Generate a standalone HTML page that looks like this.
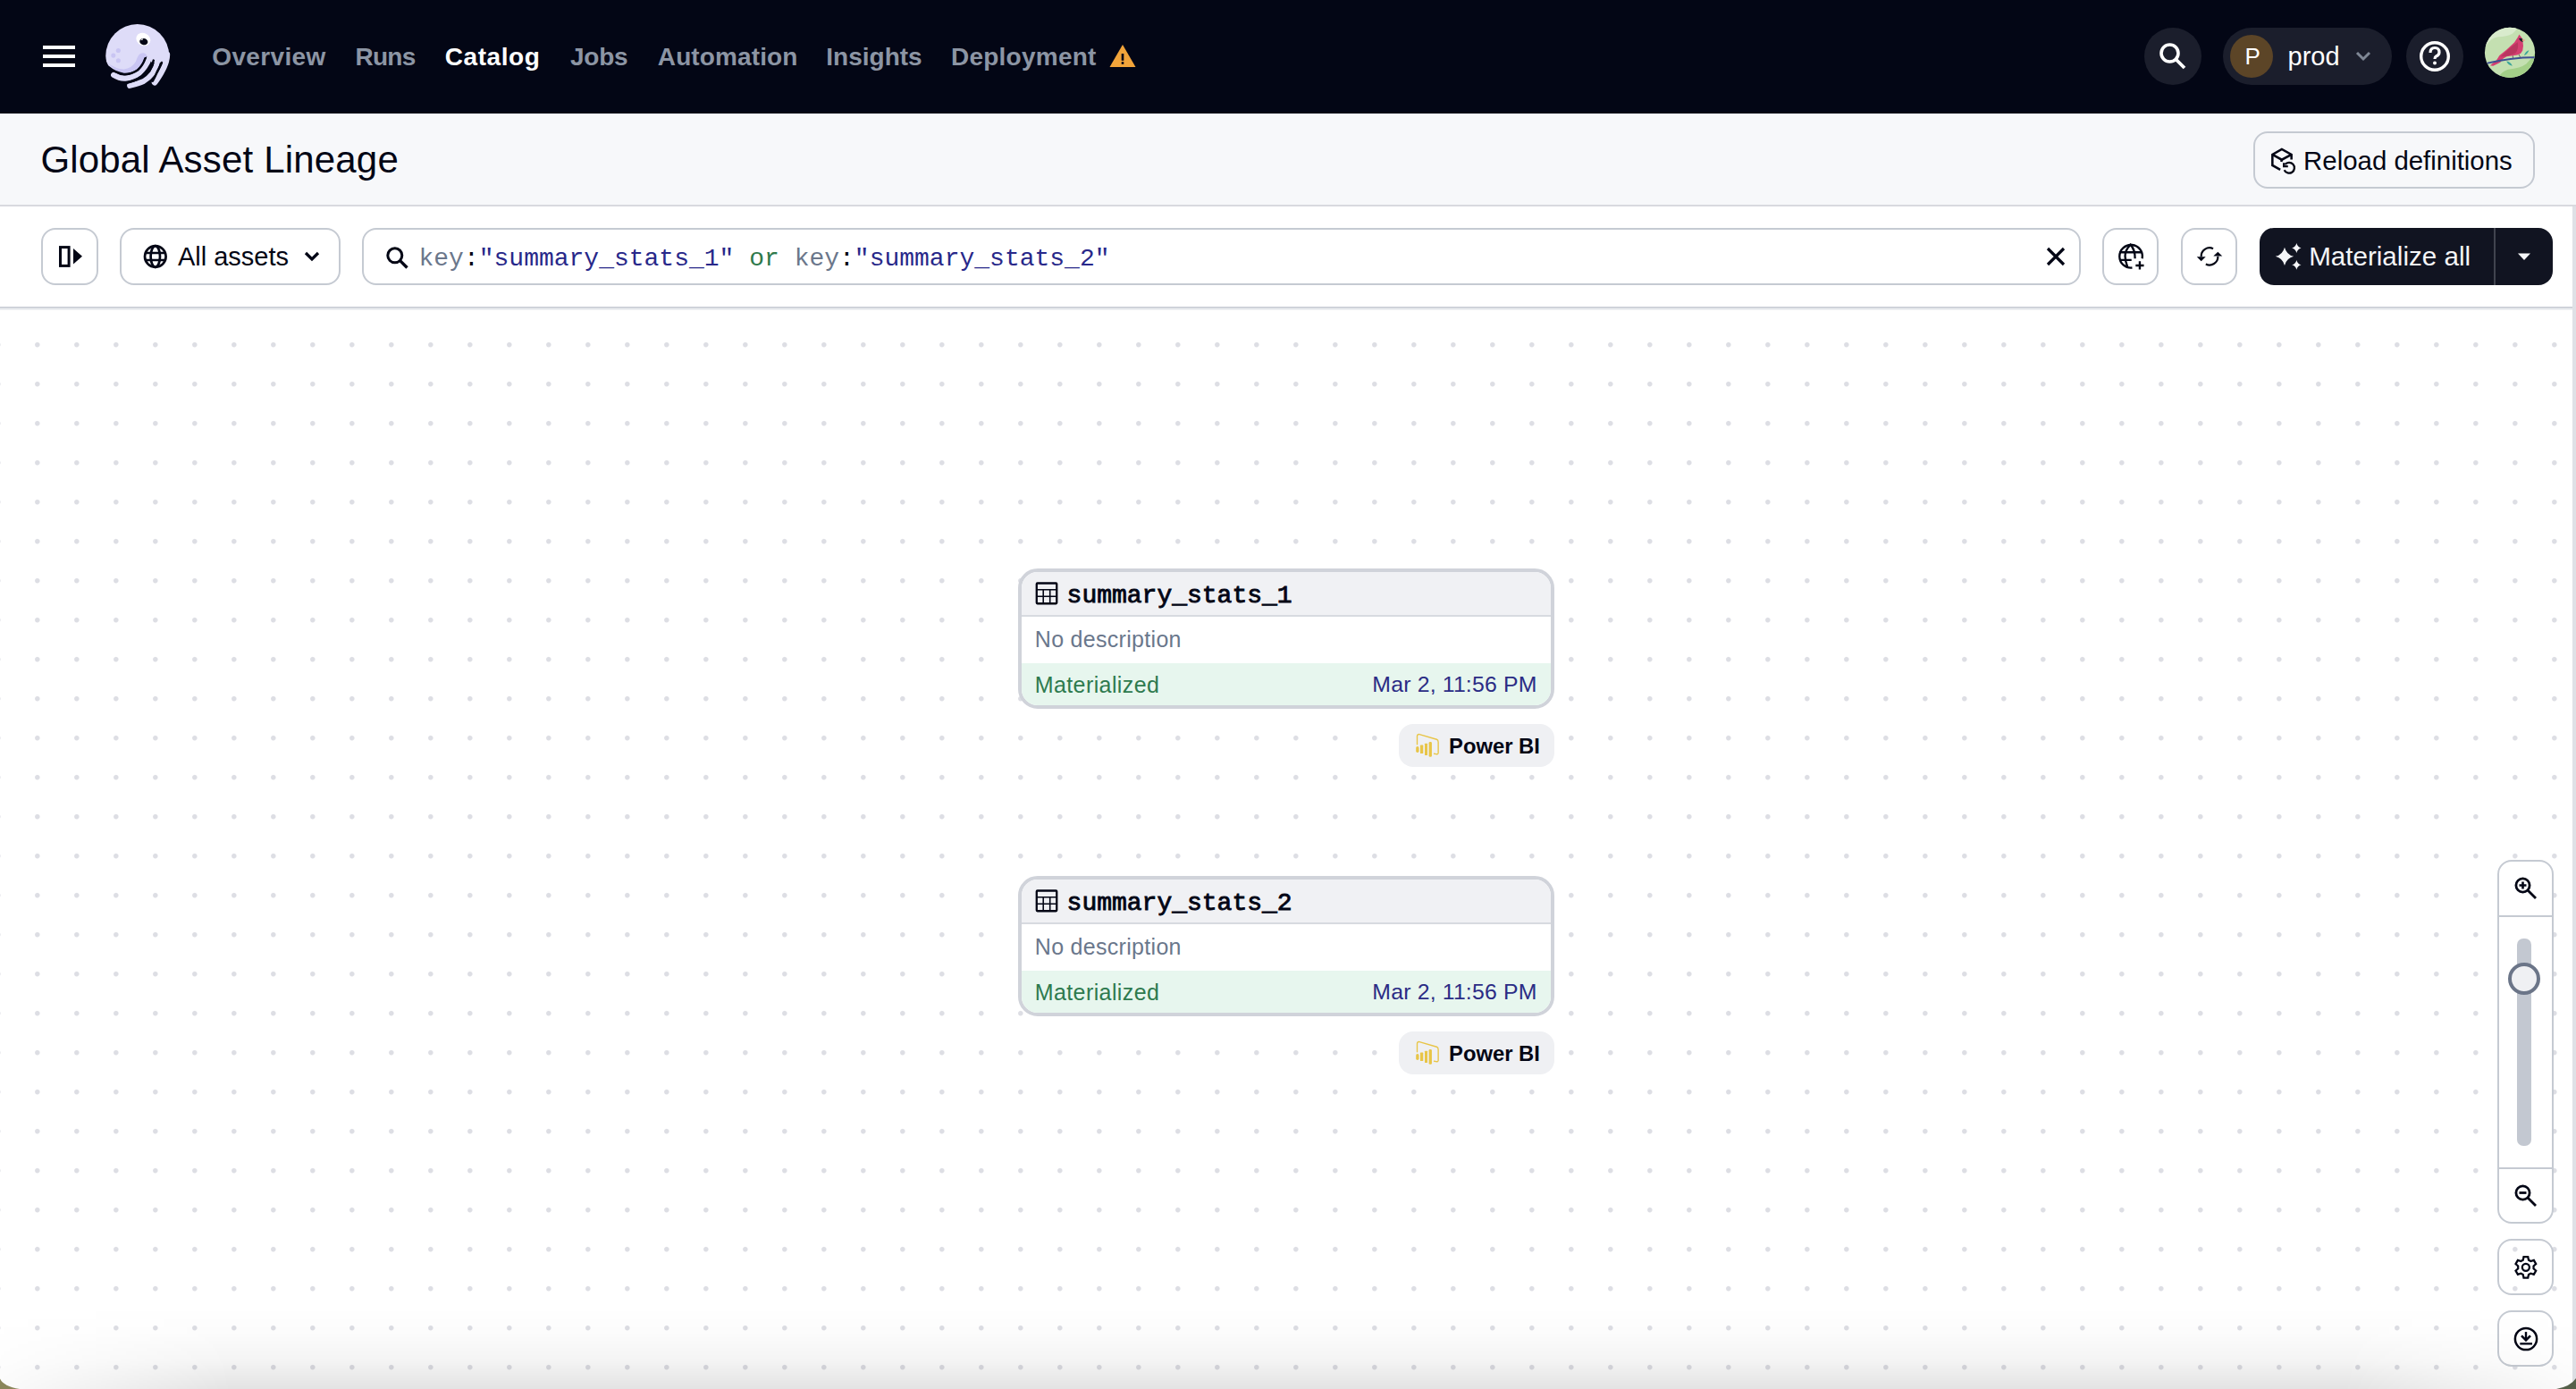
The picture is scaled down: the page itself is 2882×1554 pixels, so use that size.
<!DOCTYPE html>
<html><head><meta charset="utf-8"><title>Global Asset Lineage</title>
<style>
html,body{margin:0;padding:0;}
body{width:2882px;height:1554px;overflow:hidden;position:relative;background:#fff;font-family:"Liberation Sans", sans-serif;}
.t{position:absolute;white-space:pre;}
@media (max-width:2000px){html{zoom:0.5}}
</style></head><body>
<div style="position:absolute;left:0;top:0;width:2882px;height:127px;background:#030615"></div>
<div style="position:absolute;left:48px;top:51px;width:36px;height:4px;background:#fff"></div>
<div style="position:absolute;left:48px;top:61px;width:36px;height:4px;background:#fff"></div>
<div style="position:absolute;left:48px;top:71px;width:36px;height:4px;background:#fff"></div>
<svg style="position:absolute;left:112px;top:22px" width="84" height="82" viewBox="0 0 84 82">
<defs><clipPath id="hc"><path d="M0,0 L84,0 L84,48 L58,48 L52,41 L50.3,42.2 L49.3,43.1 C48.5,46.5 46,51 41.8,55 C38,57.8 33,59.7 26.6,59.9 C20,59.6 14,57 9.5,51.5 C8,49.5 6.5,46 5.5,42 L0,42 Z"/></clipPath></defs>
<circle cx="41.75" cy="40.55" r="35.5" fill="#dedcf8" clip-path="url(#hc)"/>
<g fill="none" stroke="#dedcf8" stroke-linecap="round">
<path d="M15.1,61.9 C19.5,64.6 24,65.9 28.3,65.6 C35,65 40,62.5 44,59.5 C49,55 52.5,50 55.3,42.5" stroke-width="6.1"/>
<path d="M33.1,73.9 C38.5,72.5 44,71 48.6,69 C53,66.5 56,63.5 58.7,60 C61.5,55.5 63.5,51 64.6,45.5" stroke-width="6"/>
<path d="M61,70.4 C63.2,67.8 65.5,64 67.9,60.1 C70.5,55.5 72.8,51 73.9,46.5 C74.5,44 75,41 75,39" stroke-width="6.4"/>
</g>
<path d="M8,48.3 Q18,55.5 26.6,55.4 Q35.5,54.6 40,46.8 Q42,40 45,38 Q50,35.5 52.6,40.6 L51,46 L47,52 L40,57 L30,60 L20,59 Z" fill="#c9c5f3" clip-path="url(#hc)"/>
<g fill="none" stroke="#030615" stroke-width="2.5" stroke-linecap="round">
<path d="M10,53.5 C14,57 19,59.5 26.6,60.9 C32,61.3 37.5,59.5 42.3,56.2 C46,53 48.7,48.5 50.5,43.2"/>
<path d="M27.5,70.9 C32,70.5 37,68.8 41.8,66.5 C47,63.8 52,60.5 55.4,56.7 C57.5,53.5 59,49.5 59.8,45.6"/>
<path d="M58.8,68.6 C60,66.5 62,62.5 63.8,58.4 C65.5,55 67.5,51.5 68.9,48"/>
</g>
<circle cx="20.35" cy="34.5" r="2.55" fill="#c9c5f3"/><circle cx="14.8" cy="40.1" r="2.55" fill="#c9c5f3"/><circle cx="20.35" cy="45.8" r="2.55" fill="#c9c5f3"/>
<ellipse cx="48.3" cy="22" rx="8.2" ry="7" fill="#fff" transform="rotate(25 48.3 22)"/>
<ellipse cx="48.8" cy="24.6" rx="4.6" ry="3.6" fill="#030615" transform="rotate(10 48.8 24.6)"/>
<path d="M45,23.2 L47.3,21 L48,22.6 Z" fill="#fff"/>
</svg>
<div class="t" style="left:237.35px;top:49.69px;font-size:28px;line-height:28px;font-weight:700;color:#8c95a4;font-family:'Liberation Sans', sans-serif;letter-spacing:0.33px;">Overview</div>
<div class="t" style="left:397.43px;top:49.69px;font-size:28px;line-height:28px;font-weight:700;color:#8c95a4;font-family:'Liberation Sans', sans-serif;letter-spacing:-0.7px;">Runs</div>
<div class="t" style="left:497.85px;top:49.69px;font-size:28px;line-height:28px;font-weight:700;color:#ffffff;font-family:'Liberation Sans', sans-serif;letter-spacing:0.55px;">Catalog</div>
<div class="t" style="left:637.88px;top:49.69px;font-size:28px;line-height:28px;font-weight:700;color:#8c95a4;font-family:'Liberation Sans', sans-serif;letter-spacing:-0.2px;">Jobs</div>
<div class="t" style="left:735.80px;top:49.69px;font-size:28px;line-height:28px;font-weight:700;color:#8c95a4;font-family:'Liberation Sans', sans-serif;letter-spacing:0.12px;">Automation</div>
<div class="t" style="left:924.33px;top:49.69px;font-size:28px;line-height:28px;font-weight:700;color:#8c95a4;font-family:'Liberation Sans', sans-serif;">Insights</div>
<div class="t" style="left:1063.93px;top:49.69px;font-size:28px;line-height:28px;font-weight:700;color:#8c95a4;font-family:'Liberation Sans', sans-serif;letter-spacing:0.25px;">Deployment</div>
<svg style="position:absolute;left:1240px;top:49px" width="32" height="28" viewBox="0 0 32 28">
<path d="M16,1 L30.5,26 L1.5,26 Z" fill="#f2a43a"/>
<rect x="14.7" y="11" width="2.6" height="7.8" fill="#030615"/><rect x="14.7" y="20.2" width="2.6" height="2.6" fill="#030615"/>
</svg>
<div style="position:absolute;left:2399px;top:31px;width:64px;height:64px;border-radius:32px;background:#1b1e2c"></div>
<svg style="position:absolute;left:2412px;top:44px" width="38" height="38" viewBox="0 0 38 38">
<circle cx="15.5" cy="15.5" r="9.5" stroke="#fff" stroke-width="3.6" fill="none"/><path d="M22.5,22.5 L32,32" stroke="#fff" stroke-width="3.8"/>
</svg>
<div style="position:absolute;left:2487px;top:31px;width:189px;height:64px;border-radius:32px;background:#1b1e2c"></div>
<div style="position:absolute;left:2495px;top:39px;width:48px;height:48px;border-radius:24px;background:#5c4527"></div>
<div class="t" style="left:2511.50px;top:50.29px;font-size:26px;line-height:26px;font-weight:400;color:#ffffff;font-family:'Liberation Sans', sans-serif;">P</div>
<div class="t" style="left:2559.50px;top:48.75px;font-size:29px;line-height:29px;font-weight:400;color:#ffffff;font-family:'Liberation Sans', sans-serif;">prod</div>
<svg style="position:absolute;left:2634px;top:55px" width="20" height="16" viewBox="0 0 20 16">
<path d="M3,4 L10,11 L17,4" stroke="#7f8795" stroke-width="3" fill="none"/>
</svg>
<div style="position:absolute;left:2692px;top:31px;width:64px;height:64px;border-radius:32px;background:#1b1e2c"></div>
<svg style="position:absolute;left:2704px;top:43px" width="40" height="40" viewBox="0 0 40 40">
<circle cx="20" cy="20" r="15.3" stroke="#fff" stroke-width="3.4" fill="none"/>
<path d="M15,16 Q15,10.5 20,10.5 Q25,10.5 25,15.5 Q25,18.5 21.5,20 Q20,20.8 20,23" stroke="#fff" stroke-width="3.2" fill="none"/>
<circle cx="20" cy="27.5" r="2" fill="#fff"/>
</svg>
<svg style="position:absolute;left:2775px;top:26px" width="66" height="66" viewBox="0 0 1389 1389">
<defs><clipPath id="av"><circle cx="695" cy="692" r="592"/></clipPath></defs>
<g clip-path="url(#av)">
<rect width="1389" height="1389" fill="#c4e0b1"/>
<path d="M0,0 L1389,0 L900,0 Q880,150 760,240 Q620,320 420,320 Q250,340 140,520 L0,600 Z" fill="#d9ebcd"/>
<path d="M380,1389 Q450,1150 650,1090 Q950,1060 1080,960 Q1180,860 1280,720 L1389,700 L1389,1389 Z" fill="#a3cf88"/>
<path d="M760,740 L770,830 M900,720 L945,815" stroke="#6a4a55" stroke-width="18" fill="none"/>
<path d="M230,995 L380,870 L450,760 L620,620 L800,450 L880,330 L915,262 L950,312 L990,365 L1000,440 L1010,530 L995,640 L950,710 L870,745 L760,765 L620,782 L540,830 L470,920 L300,1005 Z" fill="#d43f71"/>
<path d="M470,790 Q680,580 880,445 Q905,600 830,700 Q700,770 470,790 Z" fill="#b9365f"/>
<path d="M120,950 Q600,840 1000,810 Q1150,800 1300,805" stroke="#3c4f92" stroke-width="42" fill="none"/>
<path d="M905,365 Q950,340 995,375 L1000,445 Q940,430 905,365 Z" fill="#16262a"/>
<path d="M985,372 L1058,398 L985,425 Z" fill="#f18b7a"/>
<path d="M1030,760 Q1060,660 1145,635 Q1110,730 1030,760 Z" fill="#3aa59a"/>
<path d="M615,895 Q720,910 752,1005 Q650,985 615,895 Z" fill="#3aa59a"/>
</g></svg>
<div style="position:absolute;left:0;top:127px;width:2882px;height:102px;background:#f7f8fa"></div>
<div style="position:absolute;left:0;top:229px;width:2882px;height:2px;background:#d8d9df"></div>
<div class="t" style="left:45.40px;top:157.64px;font-size:42px;line-height:42px;font-weight:400;color:#030615;font-family:'Liberation Sans', sans-serif;letter-spacing:0.18px;">Global Asset Lineage</div>
<div style="position:absolute;left:2521px;top:147px;width:311px;height:60px;border:2px solid #c5cad2;border-radius:16px;background:#f7f8fa"></div>
<svg style="position:absolute;left:2535px;top:160px" width="40" height="40" viewBox="0 0 1389 1389">
<g stroke="#030615" stroke-width="88" fill="none" stroke-linejoin="miter">
<path d="M995,640 L995,450 L620,240 L255,450 L255,865 L560,1040"/>
<path d="M255,450 L620,650 L995,450"/>
<path d="M620,650 L600,730"/>
<path d="M718,1050 A205,205 0 1 0 745,835" stroke-width="80"/>
<path d="M700,770 L700,910 L860,910" stroke-width="80"/>
</g></svg>
<div class="t" style="left:2577.10px;top:165.11px;font-size:29.4px;line-height:29.4px;font-weight:400;color:#030615;font-family:'Liberation Sans', sans-serif;">Reload definitions</div>
<div style="position:absolute;left:0;top:231px;width:2882px;height:112px;background:#ffffff"></div>
<div style="position:absolute;left:0;top:343px;width:2882px;height:2px;background:#cfd3da"></div>
<div style="position:absolute;left:46px;top:255px;width:60px;height:60px;border:2px solid #c5cad2;border-radius:16px"></div>
<svg style="position:absolute;left:62px;top:271px" width="32" height="32" viewBox="0 0 32 32">
<rect x="5.5" y="5.6" width="9.6" height="20.8" stroke="#030615" stroke-width="3" fill="none"/>
<path d="M20,7 L30,15.8 L20,24.6 Z" fill="#030615"/>
</svg>
<div style="position:absolute;left:134px;top:255px;width:243px;height:60px;border:2px solid #c5cad2;border-radius:16px"></div>
<svg style="position:absolute;left:158px;top:271px" width="32" height="32" viewBox="0 0 32 32">
<g stroke="#030615" stroke-width="2.7" fill="none">
<circle cx="15.8" cy="16" r="11.8"/><ellipse cx="15.8" cy="16" rx="5.2" ry="11.8"/><path d="M4.5,12 L27,12 M4.5,20 L27,20"/>
</g></svg>
<div class="t" style="left:198.94px;top:273.45px;font-size:29px;line-height:29px;font-weight:400;color:#030615;font-family:'Liberation Sans', sans-serif;">All assets</div>
<svg style="position:absolute;left:337px;top:277px" width="24" height="20" viewBox="0 0 24 20">
<path d="M5,6 L12,13 L19,6" stroke="#030615" stroke-width="3.2" fill="none"/>
</svg>
<div style="position:absolute;left:405px;top:255px;width:1919px;height:60px;border:2px solid #c5cad2;border-radius:16px;background:#fff"></div>
<svg style="position:absolute;left:428px;top:272px" width="32" height="32" viewBox="0 0 32 32">
<circle cx="13.8" cy="13.8" r="8" stroke="#030615" stroke-width="3" fill="none"/><path d="M19.6,19.6 L27.5,27.5" stroke="#030615" stroke-width="3.4"/>
</svg>
<div class="t" style="left:468.50px;top:275.55px;font-size:28px;line-height:28px;font-weight:400;color:#030615;font-family:'Liberation Mono', monospace;"><span style="color:#6b778b">key</span><span style="color:#030615">:</span><span style="color:#28288a">"summary_stats_1"</span> <span style="color:#2f7a4c">or</span> <span style="color:#6b778b">key</span><span style="color:#030615">:</span><span style="color:#28288a">"summary_stats_2"</span></div>
<svg style="position:absolute;left:2284px;top:271px" width="32" height="32" viewBox="0 0 32 32">
<path d="M7,7 L25,25 M25,7 L7,25" stroke="#030615" stroke-width="3.2"/>
</svg>
<div style="position:absolute;left:2352px;top:255px;width:59px;height:60px;border:2px solid #c5cad2;border-radius:16px"></div>
<svg style="position:absolute;left:2364px;top:267px" width="40" height="40" viewBox="0 0 1389 1389">
<g stroke="#030615" stroke-width="82" fill="none">
<path d="M745,1130 A445,445 0 1 1 1135,770"/>
<path d="M560,1090 Q470,850 470,680 Q470,450 680,230 Q860,430 855,770"/>
<path d="M250,530 L1110,530 M250,830 L720,830"/>
<path d="M1040,880 L1040,1200 M880,1040 L1200,1040"/>
</g></svg>
<div style="position:absolute;left:2440px;top:255px;width:59px;height:60px;border:2px solid #c5cad2;border-radius:16px"></div>
<svg style="position:absolute;left:2452px;top:267px" width="40" height="40" viewBox="0 0 1389 1389">
<g stroke="#030615" stroke-width="76" fill="none">
<path d="M835,390 A325,325 0 0 0 370,700"/>
<path d="M550,990 A325,325 0 0 0 1020,690"/>
</g>
<path d="M200,700 L545,700 L372,875 Z M845,680 L1190,680 L1018,510 Z" fill="#030615"/>
</svg>
<div style="position:absolute;left:2528px;top:255px;width:328px;height:64px;border-radius:16px;background:#111421"></div>
<div style="position:absolute;left:2789.5px;top:255px;width:2px;height:64px;background:#41444f"></div>
<svg style="position:absolute;left:2540px;top:267px" width="40" height="40" viewBox="0 0 1389 1389">
<path d="M555,335 Q626,619 910,690 Q626,761 555,1045 Q484,761 200,690 Q484,619 555,335 Z M1020,175 Q1056,327 1200,365 Q1056,403 1020,555 Q984,403 840,365 Q984,327 1020,175 Z M1020,830 Q1056,982 1200,1020 Q1056,1058 1020,1210 Q984,1058 840,1020 Q984,982 1020,830 Z" fill="#f5f6f8"/>
</svg>
<div class="t" style="left:2583.15px;top:271.94px;font-size:29.6px;line-height:29.6px;font-weight:400;color:#f5f6f8;font-family:'Liberation Sans', sans-serif;">Materialize all</div>
<svg style="position:absolute;left:2814px;top:280px" width="20" height="14" viewBox="0 0 20 14">
<path d="M3,3.5 L17,3.5 L10,11 Z" fill="#f5f6f8"/>
</svg>
<div style="position:absolute;left:2878px;top:231px;width:4px;height:1323px;background:#dfe1e6"></div>
<div style="position:absolute;left:0;top:345px;width:2878px;height:1209px;background-color:#fff;background-image:radial-gradient(circle at 19.8px 40.7px, #dddee4 0, #dddee4 2.2px, rgba(221,222,228,0) 3.3px);background-size:44px 44px;background-position:22px 0"></div>
<div style="position:absolute;left:0;top:345px;width:2878px;height:2px;background:#eceef1"></div>
<div style="position:absolute;left:1139px;top:636px;width:592px;height:149px;border:4px solid #d0d3da;border-radius:22px;background:#fff;overflow:hidden"><div style="position:absolute;left:0;top:0;width:592px;height:48px;background:#f0f1f4"></div><div style="position:absolute;left:0;top:48px;width:592px;height:2px;background:#d7dae0"></div><div style="position:absolute;left:0;top:101.7px;width:592px;height:60px;background:#e7f6ee"></div></div>
<svg style="position:absolute;left:1150px;top:645px" width="40" height="40" viewBox="0 0 1389 1389">
<g stroke="#030615" fill="none"><rect x="340" y="260" width="780" height="790" rx="30" stroke-width="80"/>
<path d="M340,515 L1120,515 M340,770 L1120,770 M598,515 L598,1050 M858,515 L858,1050" stroke-width="55"/></g></svg>
<div class="t" style="left:1193.60px;top:652.75px;font-size:28px;line-height:28px;font-weight:400;color:#030615;font-family:'Liberation Mono', monospace;-webkit-text-stroke:0.9px #030615;">summary_stats_1</div>
<div class="t" style="left:1157.80px;top:703.13px;font-size:25px;line-height:25px;font-weight:400;color:#6a778c;font-family:'Liberation Sans', sans-serif;letter-spacing:0.3px;">No description</div>
<div class="t" style="left:1157.75px;top:754.13px;font-size:25px;line-height:25px;font-weight:400;color:#2e7a4e;font-family:'Liberation Sans', sans-serif;letter-spacing:0.4px;">Materialized</div>
<div class="t" style="left:1535.35px;top:754.30px;font-size:24.8px;line-height:24.8px;font-weight:400;color:#2b2c85;font-family:'Liberation Sans', sans-serif;letter-spacing:0.18px;">Mar 2, 11:56 PM</div>
<div style="position:absolute;left:1565px;top:810px;width:174px;height:48px;border-radius:16px;background:#eff0f3"></div>
<svg style="position:absolute;left:1576px;top:814px" width="40" height="40" viewBox="0 0 1389 1389">
<g fill="#e8c547"><rect x="285" y="730" width="115" height="240" rx="57"/><rect x="450" y="680" width="115" height="330" rx="20"/>
<rect x="625" y="615" width="105" height="460" rx="20"/><rect x="785" y="555" width="115" height="580" rx="45"/></g>
<path d="M330,650 L330,330 Q340,250 420,265 L1090,460 Q1150,480 1150,560 L1150,990 Q1140,1050 1060,1030 L990,1015" stroke="#e8c547" stroke-width="48" fill="none" stroke-linecap="round"/>
</svg>
<div class="t" style="left:1621.10px;top:822.85px;font-size:23.8px;line-height:23.8px;font-weight:700;color:#030615;font-family:'Liberation Sans', sans-serif;">Power BI</div>
<div style="position:absolute;left:1139px;top:980px;width:592px;height:149px;border:4px solid #d0d3da;border-radius:22px;background:#fff;overflow:hidden"><div style="position:absolute;left:0;top:0;width:592px;height:48px;background:#f0f1f4"></div><div style="position:absolute;left:0;top:48px;width:592px;height:2px;background:#d7dae0"></div><div style="position:absolute;left:0;top:101.7px;width:592px;height:60px;background:#e7f6ee"></div></div>
<svg style="position:absolute;left:1150px;top:989px" width="40" height="40" viewBox="0 0 1389 1389">
<g stroke="#030615" fill="none"><rect x="340" y="260" width="780" height="790" rx="30" stroke-width="80"/>
<path d="M340,515 L1120,515 M340,770 L1120,770 M598,515 L598,1050 M858,515 L858,1050" stroke-width="55"/></g></svg>
<div class="t" style="left:1193.60px;top:996.75px;font-size:28px;line-height:28px;font-weight:400;color:#030615;font-family:'Liberation Mono', monospace;-webkit-text-stroke:0.9px #030615;">summary_stats_2</div>
<div class="t" style="left:1157.80px;top:1047.13px;font-size:25px;line-height:25px;font-weight:400;color:#6a778c;font-family:'Liberation Sans', sans-serif;letter-spacing:0.3px;">No description</div>
<div class="t" style="left:1157.75px;top:1098.13px;font-size:25px;line-height:25px;font-weight:400;color:#2e7a4e;font-family:'Liberation Sans', sans-serif;letter-spacing:0.4px;">Materialized</div>
<div class="t" style="left:1535.35px;top:1098.30px;font-size:24.8px;line-height:24.8px;font-weight:400;color:#2b2c85;font-family:'Liberation Sans', sans-serif;letter-spacing:0.18px;">Mar 2, 11:56 PM</div>
<div style="position:absolute;left:1565px;top:1154px;width:174px;height:48px;border-radius:16px;background:#eff0f3"></div>
<svg style="position:absolute;left:1576px;top:1158px" width="40" height="40" viewBox="0 0 1389 1389">
<g fill="#e8c547"><rect x="285" y="730" width="115" height="240" rx="57"/><rect x="450" y="680" width="115" height="330" rx="20"/>
<rect x="625" y="615" width="105" height="460" rx="20"/><rect x="785" y="555" width="115" height="580" rx="45"/></g>
<path d="M330,650 L330,330 Q340,250 420,265 L1090,460 Q1150,480 1150,560 L1150,990 Q1140,1050 1060,1030 L990,1015" stroke="#e8c547" stroke-width="48" fill="none" stroke-linecap="round"/>
</svg>
<div class="t" style="left:1621.10px;top:1166.85px;font-size:23.8px;line-height:23.8px;font-weight:700;color:#030615;font-family:'Liberation Sans', sans-serif;">Power BI</div>
<div style="position:absolute;left:2794px;top:962px;width:59px;height:403px;border:2px solid #c5cad2;border-radius:16px;background:#fff"></div>
<div style="position:absolute;left:2796px;top:1024px;width:59px;height:2px;background:#c5cad2"></div>
<div style="position:absolute;left:2796px;top:1306px;width:59px;height:2px;background:#c5cad2"></div>
<div style="position:absolute;left:2816px;top:1050px;width:16px;height:232px;border-radius:7px;background:#c3c8d1"></div>
<div style="position:absolute;left:2806px;top:1077px;width:28px;height:28px;border:4px solid #6b7588;border-radius:50%;background:#eff0f3"></div>
<svg style="position:absolute;left:2808px;top:976px" width="36" height="36" viewBox="0 0 36 36">
<circle cx="14.5" cy="14.5" r="7.6" stroke="#030615" stroke-width="2.8" fill="none"/><path d="M20,20 L29,29" stroke="#030615" stroke-width="2.8"/>
<path d="M14.5,10.5 L14.5,18.5 M10.5,14.5 L18.5,14.5" stroke="#030615" stroke-width="2.6"/>
</svg>
<svg style="position:absolute;left:2808px;top:1320px" width="36" height="36" viewBox="0 0 36 36">
<circle cx="14.5" cy="14.5" r="7.6" stroke="#030615" stroke-width="2.8" fill="none"/><path d="M20,20 L29,29" stroke="#030615" stroke-width="2.8"/>
<path d="M10.5,14.5 L18.5,14.5" stroke="#030615" stroke-width="2.8"/>
</svg>
<div style="position:absolute;left:2794px;top:1386px;width:59px;height:59px;border:2px solid #c5cad2;border-radius:16px"></div>
<svg style="position:absolute;left:2806px;top:1398px" width="40" height="40" viewBox="0 0 1389 1389">
<path d="M581,405 L607,283 L773,283 L799,405 L882,453 L1001,415 L1084,558 L991,642 L991,738 L1084,822 L1001,965 L882,927 L799,975 L773,1097 L607,1097 L581,975 L498,927 L379,965 L296,822 L389,738 L389,642 L296,558 L379,415 L498,453 Z" stroke="#030615" stroke-width="78" fill="none" stroke-linejoin="miter"/>
<circle cx="690" cy="690" r="140" stroke="#030615" stroke-width="80" fill="none"/>
</svg>
<div style="position:absolute;left:2794px;top:1466px;width:59px;height:59px;border:2px solid #c5cad2;border-radius:16px;background:#fff"></div>
<svg style="position:absolute;left:2808px;top:1480px" width="36" height="36" viewBox="0 0 36 36">
<circle cx="18" cy="18" r="12.1" stroke="#030615" stroke-width="2.5" fill="none"/>
<path d="M18,10.1 L18,18.4" stroke="#030615" stroke-width="2.4" fill="none"/>
<path d="M13,14.4 L18,19.4 L23,14.4" stroke="#030615" stroke-width="2.5" fill="none"/>
<path d="M11.3,23.35 L25,23.35" stroke="#030615" stroke-width="2.3"/>
</svg>
<div style="position:absolute;left:0;top:1462px;width:2882px;height:92px;background:linear-gradient(to bottom, rgba(0,0,0,0) 0%, rgba(0,0,0,0.012) 30%, rgba(0,0,0,0.045) 65%, rgba(0,0,0,0.11) 100%);-webkit-mask-image:linear-gradient(to right, rgba(0,0,0,0.15) 0, #000 260px, #000 2622px, rgba(0,0,0,0.15) 2882px);pointer-events:none"></div>
<svg style="position:absolute;left:0;top:1538px" width="2882" height="16" viewBox="0 1538 2882 16">
<path d="M0,1542.5 Q4,1551 22,1554 L0,1554 Z" fill="#8a865a"/>
<path d="M2882,1542 Q2876,1551 2860,1554 L2882,1554 Z" fill="#55604a"/>
</svg>
</body></html>
